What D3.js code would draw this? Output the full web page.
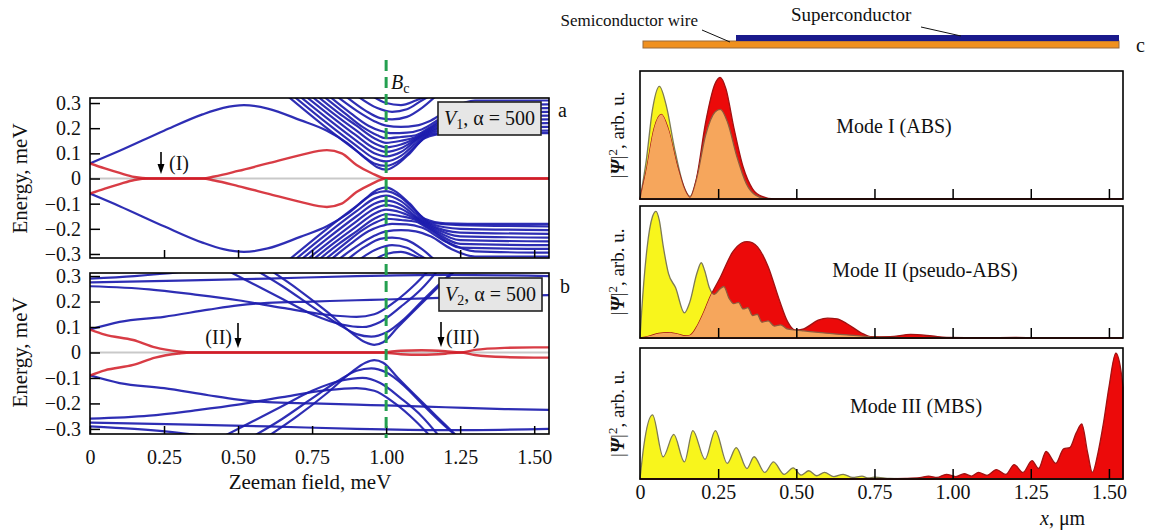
<!DOCTYPE html>
<html>
<head>
<meta charset="utf-8">
<script src="https://cdn.jsdelivr.net/npm/d3@7"></script>
<style>
body { margin: 0; background: #fff; }
svg text { font-family: "Liberation Serif", "Times New Roman", serif; fill: #111; }
.axis path.domain { display: none; }
.axis line { stroke: #000; stroke-width: 1.5; }
</style>
</head>
<body>
<svg id="fig" width="1149" height="530" font-family="Liberation Serif, serif"></svg>
<script>
// ---- tick labels ----
const zeemanTicks = [0, 0.25, 0.5, 0.75, 1.0, 1.25, 1.5];
const energyTicks = [-0.3, -0.2, -0.1, 0, 0.1, 0.2, 0.3];
const positionTicks = [0, 0.25, 0.5, 0.75, 1.0, 1.25, 1.5];

// ---- panel a (V1), positive-energy branches [B, E]; spectrum is drawn mirrored at -E too ----
const redA = [
  [[0, 0.06], [0.05, 0.04], [0.1, 0.022], [0.15, 0.006], [0.2, 0], [0.38, 0], [0.42, 0.008], [0.5, 0.03],
   [0.6, 0.06], [0.71, 0.093], [0.8, 0.113], [0.85, 0.1], [0.9, 0.054], [0.95, 0.022], [1.0, 0], [1.55, 0]]
];
const blueA = [
  [[0, 0.06], [0.1, 0.11], [0.25, 0.19], [0.38, 0.255], [0.45, 0.281], [0.52, 0.292], [0.6, 0.278], [0.71, 0.232],
   [0.8, 0.19], [0.87, 0.14], [0.93, 0.08], [0.97, 0.045], [1.0, 0.035], [1.03, 0.05], [1.08, 0.1], [1.13, 0.16],
   [1.2, 0.178], [1.35, 0.18], [1.55, 0.18]],
  [[0.665, 0.33], [0.8, 0.2], [0.9, 0.11], [0.96, 0.06], [1.0, 0.05], [1.05, 0.075], [1.1, 0.13], [1.15, 0.175], [1.25, 0.185], [1.55, 0.19]],
  [[0.685, 0.33], [0.8, 0.22], [0.9, 0.13], [0.96, 0.08], [1.0, 0.068], [1.05, 0.09], [1.1, 0.14], [1.15, 0.18], [1.25, 0.2], [1.55, 0.205]],
  [[0.705, 0.33], [0.8, 0.24], [0.9, 0.15], [0.96, 0.1], [1.0, 0.088], [1.05, 0.105], [1.1, 0.15], [1.15, 0.185], [1.25, 0.215], [1.55, 0.22]],
  [[0.725, 0.33], [0.8, 0.26], [0.9, 0.17], [0.96, 0.12], [1.0, 0.106], [1.05, 0.12], [1.1, 0.155], [1.15, 0.19], [1.25, 0.23], [1.55, 0.235]],
  [[0.745, 0.33], [0.82, 0.26], [0.9, 0.19], [0.96, 0.14], [1.0, 0.124], [1.05, 0.135], [1.1, 0.16], [1.15, 0.195], [1.25, 0.245], [1.55, 0.25]],
  [[0.765, 0.33], [0.84, 0.26], [0.9, 0.21], [0.96, 0.16], [1.0, 0.142], [1.05, 0.15], [1.1, 0.165], [1.15, 0.2], [1.25, 0.26], [1.55, 0.265]],
  [[0.785, 0.33], [0.86, 0.26], [0.92, 0.205], [0.97, 0.172], [1.0, 0.16], [1.05, 0.165], [1.1, 0.172], [1.15, 0.205], [1.25, 0.275], [1.55, 0.28]],
  [[0.805, 0.33], [0.88, 0.26], [0.94, 0.21], [0.98, 0.19], [1.02, 0.18], [1.07, 0.182], [1.12, 0.195], [1.2, 0.25], [1.3, 0.29], [1.55, 0.295]],
  [[0.83, 0.33], [0.9, 0.27], [0.96, 0.228], [1.0, 0.21], [1.05, 0.205], [1.1, 0.21], [1.15, 0.23], [1.22, 0.28], [1.3, 0.31], [1.55, 0.31]],
  [[0.86, 0.33], [0.93, 0.27], [0.98, 0.24], [1.02, 0.235], [1.07, 0.245], [1.12, 0.28], [1.17, 0.33]],
  [[0.9, 0.33], [0.97, 0.28], [1.02, 0.265], [1.07, 0.275], [1.12, 0.31], [1.15, 0.33]],
  [[0.95, 0.33], [1.0, 0.3], [1.05, 0.292], [1.1, 0.31], [1.14, 0.33]]
];

// ---- panel b (V2) ----
const redB = [
  [[0, 0.09], [0.05, 0.07], [0.146, 0.049], [0.22, 0.02], [0.3, 0.004], [0.34, 0], [0.98, 0], [1.05, 0.007],
   [1.12, 0.009], [1.2, 0.005], [1.25, 0], [1.3, 0.01], [1.4, 0.018], [1.5, 0.02], [1.55, 0.02]]
];
const blueB = [
  [[0, 0.09], [0.1, 0.12], [0.25, 0.14], [0.4, 0.168], [0.5, 0.185], [0.6, 0.195], [0.75, 0.2], [0.9, 0.205],
   [1.0, 0.208], [1.2, 0.215], [1.4, 0.222], [1.55, 0.225]],
  [[0, 0.29], [0.15, 0.3], [0.3, 0.315], [0.4, 0.33]],
  [[0, 0.275], [0.3, 0.282], [0.6, 0.29], [0.9, 0.3], [1.2, 0.305], [1.55, 0.3]],
  [[0, 0.26], [0.2, 0.248], [0.35, 0.228], [0.5, 0.205], [0.65, 0.175], [0.8, 0.148], [0.9, 0.14], [0.96, 0.15],
   [1.03, 0.2], [1.1, 0.27], [1.15, 0.33]],
  [[0.45, 0.33], [0.55, 0.27], [0.65, 0.21], [0.75, 0.15], [0.85, 0.11], [0.92, 0.1], [0.98, 0.12], [1.05, 0.18], [1.12, 0.25], [1.18, 0.33]],
  [[0.55, 0.33], [0.65, 0.26], [0.75, 0.18], [0.84, 0.11], [0.9, 0.072], [0.95, 0.062], [1.0, 0.078], [1.06, 0.13], [1.12, 0.2], [1.2, 0.29], [1.24, 0.33]],
  [[0.6, 0.33], [0.7, 0.25], [0.8, 0.16], [0.88, 0.08], [0.93, 0.04], [0.96, 0.03], [0.99, 0.04], [1.04, 0.1], [1.1, 0.17], [1.17, 0.25], [1.24, 0.33]]
];

// ---- panel c: |Psi|^2 profiles [x (um), relative height] ----
const mode1Yellow = [[0, 0], [0.02, 0.3], [0.04, 0.7], [0.062, 0.88], [0.085, 0.72], [0.11, 0.4], [0.14, 0.1], [0.16, 0.02],
  [0.18, 0.15], [0.21, 0.5], [0.24, 0.68], [0.257, 0.7], [0.28, 0.6], [0.31, 0.33], [0.34, 0.12], [0.37, 0.03], [0.41, 0], [1.545, 0]];
const mode1Red = [[0, 0], [0.02, 0.22], [0.045, 0.55], [0.068, 0.66], [0.09, 0.55], [0.12, 0.25], [0.15, 0.04], [0.16, 0.01],
  [0.18, 0.15], [0.21, 0.6], [0.24, 0.9], [0.256, 0.95], [0.275, 0.86], [0.3, 0.56], [0.33, 0.25], [0.36, 0.08], [0.39, 0.02], [0.43, 0], [1.545, 0]];

const mode2Yellow = [[0, 0], [0.005, 0.19], [0.0225, 0.68], [0.04, 0.92], [0.051, 0.96], [0.062, 0.89], [0.074, 0.7], [0.091, 0.49],
  [0.114, 0.38], [0.142, 0.19], [0.159, 0.27], [0.182, 0.49], [0.196, 0.57], [0.207, 0.51], [0.222, 0.38], [0.237, 0.33],
  [0.255, 0.37], [0.268, 0.39], [0.285, 0.3], [0.3, 0.26], [0.315, 0.27], [0.33, 0.22], [0.345, 0.23], [0.36, 0.17],
  [0.375, 0.18], [0.39, 0.12], [0.41, 0.13], [0.43, 0.09], [0.45, 0.1], [0.47, 0.07], [0.5, 0.06], [0.524, 0.054],
  [0.58, 0.04], [0.64, 0.027], [0.72, 0.013], [0.8, 0.005], [0.9, 0], [1.545, 0]];
const mode2Red = [[0, 0], [0.03, 0.015], [0.06, 0.035], [0.09, 0.04], [0.12, 0.03], [0.145, 0.015], [0.16, 0.02], [0.185, 0.1],
  [0.205, 0.2], [0.222, 0.3], [0.257, 0.46], [0.296, 0.65], [0.325, 0.72], [0.342, 0.73], [0.36, 0.72], [0.376, 0.69],
  [0.41, 0.54], [0.444, 0.3], [0.473, 0.12], [0.495, 0.06], [0.524, 0.07], [0.57, 0.135], [0.6, 0.15], [0.63, 0.145],
  [0.661, 0.11], [0.707, 0.04], [0.741, 0.008], [0.8, 0.01], [0.866, 0.027], [0.935, 0.015], [0.98, 0.005], [1.1, 0.002],
  [1.2, 0.005], [1.3, 0.001], [1.545, 0]];

const mode3Yellow = [[0, 0], [0.012, 0.25], [0.04, 0.49], [0.074, 0.17], [0.108, 0.34], [0.142, 0.13], [0.169, 0.37], [0.208, 0.15],
  [0.241, 0.37], [0.279, 0.12], [0.308, 0.24], [0.342, 0.08], [0.365, 0.17], [0.399, 0.05], [0.427, 0.13], [0.461, 0.035],
  [0.49, 0.085], [0.515, 0.03], [0.54, 0.063], [0.565, 0.025], [0.59, 0.05], [0.62, 0.018], [0.65, 0.036], [0.68, 0.012],
  [0.71, 0.022], [0.73, 0.008], [0.75, 0.014], [0.8, 0.004], [0.9, 0], [1.545, 0]];
const mode3Red = [[0, 0], [0.7, 0], [0.85, 0.005], [0.895, 0.01], [0.923, 0.022], [0.95, 0.012], [0.98, 0.036], [1.01, 0.018],
  [1.037, 0.04], [1.06, 0.022], [1.083, 0.05], [1.11, 0.028], [1.14, 0.072], [1.17, 0.035], [1.197, 0.11], [1.225, 0.05],
  [1.254, 0.14], [1.275, 0.08], [1.299, 0.21], [1.33, 0.12], [1.355, 0.23], [1.375, 0.24], [1.395, 0.35], [1.413, 0.42],
  [1.432, 0.2], [1.447, 0.05], [1.465, 0.2], [1.482, 0.42], [1.5, 0.7], [1.522, 0.96], [1.54, 0.8], [1.545, 0.7]];

const BLUE = '#1c1cae', RED = '#d11a24', GREEN = '#24a050';
const YELLOW = '#f8f51c', REDFILL = '#ec0a0a', ORANGE = '#f6a65c';

const svg = d3.select('#fig');
const defs = svg.append('defs');

// ================= left: energy spectra =================
const xB = d3.scaleLinear().domain([0, 1.55]).range([90, 549]);

function bandPanel(id, top, bottom, y, blue, red) {
  defs.append('clipPath').attr('id', 'clip' + id)
    .append('rect').attr('x', xB(0)).attr('y', top).attr('width', xB(1.55) - xB(0)).attr('height', bottom - top);

  const g = svg.append('g').attr('clip-path', 'url(#clip' + id + ')');

  g.append('line')
    .attr('x1', xB(0)).attr('x2', xB(1.55))
    .attr('y1', y(0)).attr('y2', y(0))
    .attr('stroke', '#c9c9c9').attr('stroke-width', 2);

  [1, -1].forEach(sign => {
    const line = d3.line().curve(d3.curveMonotoneX)
      .x(d => xB(d[0]))
      .y(d => y(sign * d[1]));
    g.selectAll(null).data(blue).enter().append('path')
      .attr('d', line)
      .attr('fill', 'none').attr('stroke', BLUE).attr('stroke-width', 2.2).attr('stroke-opacity', 0.92);
  });
  [1, -1].forEach(sign => {
    const line = d3.line().curve(d3.curveMonotoneX)
      .x(d => xB(d[0]))
      .y(d => y(sign * d[1]));
    g.selectAll(null).data(red).enter().append('path')
      .attr('d', line)
      .attr('fill', 'none').attr('stroke', RED).attr('stroke-width', 2.4).attr('stroke-opacity', 0.85);
  });

  // inside ticks
  svg.append('g').attr('class', 'axis')
    .attr('transform', 'translate(' + xB(0) + ',0)')
    .call(d3.axisLeft(y).tickValues(energyTicks).tickSize(-10).tickPadding(9)
      .tickFormat(d => d === 0 ? '0' : d3.format('.1f')(d)))
    .selectAll('text').style('font-size', '20px');

  svg.append('rect')
    .attr('x', xB(0)).attr('y', top).attr('width', xB(1.55) - xB(0)).attr('height', bottom - top)
    .attr('fill', 'none').attr('stroke', '#000').attr('stroke-width', 1.6);

  svg.append('text')
    .attr('transform', 'translate(27,' + y(0) + ') rotate(-90)')
    .attr('text-anchor', 'middle')
    .style('font-size', '21px')
    .text('Energy, meV');
}

const yA = d3.scaleLinear().domain([-0.316, 0.32]).range([258, 98]);
const yB = d3.scaleLinear().domain([-0.32, 0.312]).range([434, 273]);

bandPanel('a', 98, 258, yA, blueA, redA);
bandPanel('b', 273, 434, yB, blueB, redB);

// bottom ticks
svg.append('g').attr('class', 'axis')
  .attr('transform', 'translate(0,258)')
  .call(d3.axisBottom(xB).tickValues(zeemanTicks.slice(1)).tickSize(-8).tickFormat(''));
svg.append('g').attr('class', 'axis')
  .attr('transform', 'translate(0,434)')
  .call(d3.axisBottom(xB).tickValues(zeemanTicks).tickSize(-8).tickPadding(16)
    .tickFormat(d => d === 0 ? '0' : d3.format('.2f')(d)))
  .selectAll('text').style('font-size', '20px');

svg.append('text')
  .attr('x', 310).attr('y', 489).attr('text-anchor', 'middle')
  .style('font-size', '21px')
  .text('Zeeman field, meV');

// critical field
svg.append('line')
  .attr('x1', xB(1.0)).attr('x2', xB(1.0)).attr('y1', 60).attr('y2', 438)
  .attr('stroke', GREEN).attr('stroke-width', 3).attr('stroke-dasharray', '11,6');
const bc = svg.append('text').attr('x', 391).attr('y', 89).style('font-size', '20px');
bc.append('tspan').style('font-style', 'italic').text('B');
bc.append('tspan').attr('dy', 4).style('font-size', '14px').text('c');

// parameter boxes
function paramBox(bx, by, sub) {
  svg.append('rect').attr('x', bx).attr('y', by).attr('width', 103).attr('height', 33)
    .attr('fill', '#e6e6e6').attr('stroke', '#222').attr('stroke-width', 1.6);
  const t = svg.append('text').attr('x', bx + 51.5).attr('y', by + 23).attr('text-anchor', 'middle').style('font-size', '20px');
  t.append('tspan').style('font-style', 'italic').text('V');
  t.append('tspan').attr('dy', 4).style('font-size', '14px').text(sub);
  t.append('tspan').attr('dy', -4).text(', α = 500');
}
paramBox(438, 102, '1');
paramBox(439, 278, '2');

svg.append('text').attr('x', 558).attr('y', 117).style('font-size', '20px').text('a');
svg.append('text').attr('x', 560).attr('y', 293).style('font-size', '20px').text('b');

// arrows marking modes
function arrow(ax, y1, y2) {
  svg.append('line').attr('x1', ax).attr('x2', ax).attr('y1', y1).attr('y2', y2 - 8)
    .attr('stroke', '#000').attr('stroke-width', 1.6);
  svg.append('path')
    .attr('d', 'M' + (ax - 3.5) + ',' + (y2 - 10) + 'L' + (ax + 3.5) + ',' + (y2 - 10) + 'L' + ax + ',' + y2 + 'Z')
    .attr('fill', '#000');
}
arrow(161, 152, 174);
svg.append('text').attr('x', 169).attr('y', 170).style('font-size', '20px').text('(I)');
arrow(238, 323, 348);
svg.append('text').attr('x', 232).attr('y', 344).attr('text-anchor', 'end').style('font-size', '20px').text('(II)');
arrow(441, 322, 347);
svg.append('text').attr('x', 446).attr('y', 344).style('font-size', '20px').text('(III)');

// ================= right: wire sketch and wavefunctions =================
const xP = d3.scaleLinear().domain([0, 1.545]).range([640, 1123]);

svg.append('rect').attr('x', 643).attr('y', 41).attr('width', 476).attr('height', 7)
  .attr('fill', '#f0901e').attr('stroke', '#9a6a3a').attr('stroke-width', 1);
svg.append('rect').attr('x', 736).attr('y', 35).attr('width', 383).attr('height', 6)
  .attr('fill', '#1a1a8c');
svg.append('text').attr('x', 698).attr('y', 26).attr('text-anchor', 'end')
  .style('font-size', '17px').text('Semiconductor wire');
svg.append('line').attr('x1', 702).attr('y1', 30).attr('x2', 730).attr('y2', 42).attr('stroke', '#111').attr('stroke-width', 1);
svg.append('text').attr('x', 791).attr('y', 21).style('font-size', '19px').text('Superconductor');
svg.append('line').attr('x1', 921).attr('y1', 27).attr('x2', 961).attr('y2', 36).attr('stroke', '#111').attr('stroke-width', 1);
svg.append('text').attr('x', 1136).attr('y', 52).style('font-size', '20px').text('c');

function modePanel(i, top, bottom, yel, red, label, lx, ly) {
  const y = d3.scaleLinear().domain([0, 1]).range([bottom, top]);
  const area = d3.area().curve(d3.curveMonotoneX)
    .x(d => xP(d[0])).y0(bottom).y1(d => y(d[1]));

  defs.append('clipPath').attr('id', 'red' + i).append('path').attr('d', area(red));

  const g = svg.append('g');
  g.append('path').attr('d', area(yel)).attr('fill', YELLOW).attr('stroke', '#7d7a55').attr('stroke-width', 1.3);
  g.append('path').attr('d', area(red)).attr('fill', REDFILL).attr('stroke', '#a01212').attr('stroke-width', 1.3);
  g.append('path').attr('d', area(yel)).attr('clip-path', 'url(#red' + i + ')')
    .attr('fill', ORANGE).attr('stroke', '#8f5a3c').attr('stroke-width', 1.3);

  svg.append('g').attr('class', 'axis')
    .attr('transform', 'translate(0,' + bottom + ')')
    .call(d3.axisBottom(xP).tickValues(positionTicks.slice(1)).tickSize(-10).tickFormat(''));

  svg.append('rect').attr('x', xP(0)).attr('y', top).attr('width', xP(1.545) - xP(0)).attr('height', bottom - top)
    .attr('fill', 'none').attr('stroke', '#000').attr('stroke-width', 1.6);

  svg.append('text').attr('x', lx).attr('y', ly).attr('text-anchor', 'middle').style('font-size', '20px').text(label);

  const t = svg.append('text')
    .attr('transform', 'translate(624,' + (top + bottom) / 2 + ') rotate(-90)')
    .attr('text-anchor', 'middle').style('font-size', '19px');
  t.append('tspan').text('|');
  t.append('tspan').style('font-style', 'italic').style('font-weight', 'bold').text('Ψ');
  t.append('tspan').text('|');
  t.append('tspan').attr('dy', -7).style('font-size', '13px').text('2');
  t.append('tspan').attr('dy', 7).text(', arb. u.');
}

modePanel(1, 71, 199, mode1Yellow, mode1Red, 'Mode I (ABS)', 894, 133);
modePanel(2, 206, 338, mode2Yellow, mode2Red, 'Mode II (pseudo-ABS)', 925, 277);
modePanel(3, 348, 479, mode3Yellow, mode3Red, 'Mode III (MBS)', 916, 413);

svg.append('g').attr('class', 'axis')
  .attr('transform', 'translate(0,479)')
  .call(d3.axisBottom(xP).tickValues(positionTicks).tickSize(0).tickPadding(6)
    .tickFormat(d => d === 0 ? '0' : d3.format('.2f')(d)))
  .selectAll('text').style('font-size', '20px');

const xl = svg.append('text').attr('x', 1040).attr('y', 525).style('font-size', '20px');
xl.append('tspan').style('font-style', 'italic').text('x');
xl.append('tspan').text(', μm');
</script>
</body>
</html>
